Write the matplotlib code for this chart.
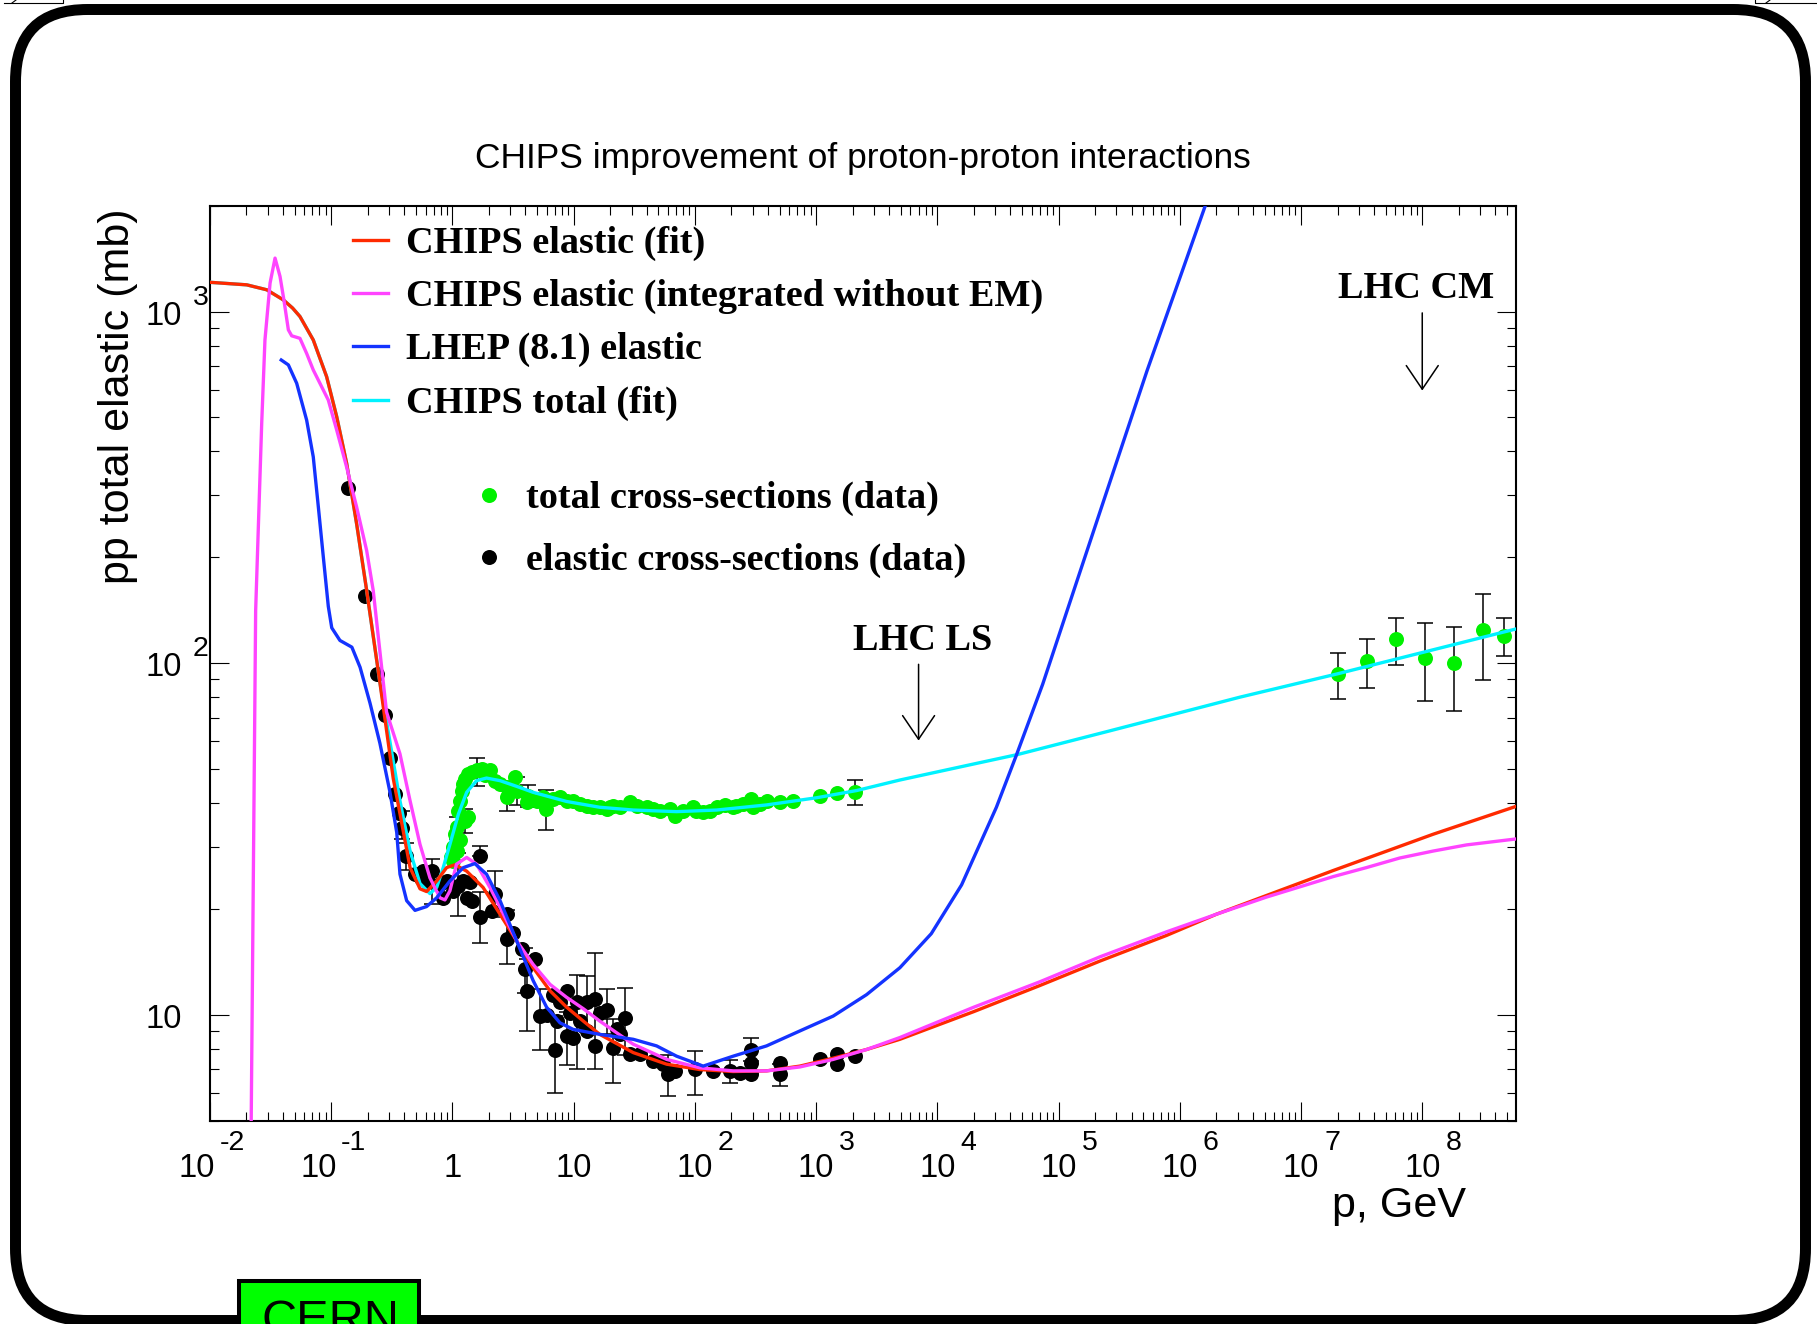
import numpy as np
import matplotlib
matplotlib.use("Agg")
import matplotlib.pyplot as plt
import matplotlib.transforms as mtrans
from matplotlib.patches import FancyBboxPatch, Rectangle
from matplotlib.lines import Line2D
from matplotlib.ticker import LogLocator, NullFormatter

# ------------------------------------------------------------------ data
# CHIPS elastic (fit)
red_p = [0.01, 0.0201, 0.0294, 0.0403, 0.0480, 0.0552, 0.0711, 0.0916, 0.111, 0.134, 0.162,
         0.196, 0.252, 0.325, 0.369, 0.447, 0.540, 0.612, 0.741, 0.895, 1.05,
         1.31, 1.79, 2.47, 3.39, 4.63, 6.37, 8.75, 12.0, 16.4, 31.0,
         58.5, 110, 207, 390, 735, 1384, 2606, 4909, 19950, 69980,
         2.188e5, 7.762e5, 2.0e6, 1.84e7, 1.23e8, 5.9e8]
red_s = [1211, 1191, 1153, 1079, 1023, 968, 830, 653, 502, 370, 249,
         161, 88.1, 46.9, 37.3, 26.2, 22.8, 22.4, 24.0, 26.2, 26.7,
         25.6, 23.0, 19.3, 16.2, 13.6, 11.7, 10.5, 9.59, 8.79, 7.80,
         7.23, 6.98, 6.89, 6.92, 7.14, 7.52, 7.96, 8.51, 10.2, 12.1,
         14.2, 16.8, 19.3, 25.7, 32.6, 39.1]

# CHIPS elastic (integrated without EM)
mag_p = [0.0210, 0.0238, 0.0251, 0.0267, 0.0284, 0.0313, 0.0344, 0.0378, 0.0407, 0.0443,
         0.0472, 0.0552, 0.0627, 0.0711, 0.0807, 0.0946, 0.111, 0.134, 0.162, 0.196,
         0.222, 0.286, 0.369, 0.447, 0.540, 0.652, 0.789, 0.867, 0.953, 1.08,
         1.31, 1.58, 2.04, 2.47, 3.39, 4.63, 6.37, 8.75, 12.0, 16.4,
         31.0, 58.5, 110, 207, 390, 735, 1384, 2606, 4909, 19950,
         69980, 2.188e5, 7.762e5, 2.0e6, 5.19e6, 1.84e7, 3.46e7, 6.52e7, 1.23e8,
         2.32e8, 5.9e8]
mag_s = [1.0, 141, 249, 481, 830, 1205, 1419, 1259, 1079, 887,
         853, 839, 760, 682, 625, 560, 460, 361, 278, 209,
         161, 72.6, 55.2, 40.6, 30.5, 24.5, 21.5, 21.2, 22.5, 26.8,
         28.0, 26.8, 23.0, 20.2, 16.2, 13.9, 12.2, 11.2, 10.4, 9.59,
         8.24, 7.46, 7.06, 6.92, 6.92, 7.10, 7.46, 7.96, 8.61, 10.5,
         12.4, 14.6, 17.2, 19.3, 21.6, 24.7, 26.2, 27.9, 29.2,
         30.4, 31.6]

# LHEP (8.1) elastic
blue_p = [0.0387, 0.0443, 0.0519, 0.0627, 0.0711, 0.0783, 0.0861, 0.0946, 0.101, 0.118,
          0.148, 0.173, 0.209, 0.252, 0.305, 0.347, 0.369, 0.419, 0.491, 0.612,
          0.741, 0.953, 1.23, 1.53, 1.91, 2.47, 3.39, 4.63, 5.98, 7.71,
          9.91, 16.4, 31.0, 48.3, 70.6, 117, 207, 390, 735, 1384,
          2606, 4909, 8913, 15850, 30690, 44670, 73960, 1.432e5, 2.773e5, 5.37e5,
          1.04e6, 2.0e6]
blue_s = [728, 705, 625, 491, 386, 278, 200, 145, 126, 116,
          111, 97.3, 76.9, 59.2, 43.0, 33.0, 25.1, 21.1, 19.8, 20.3,
          21.5, 24.0, 26.2, 26.9, 25.1, 21.1, 16.2, 12.5, 10.5, 9.48,
          9.08, 8.79, 8.51, 8.15, 7.62, 7.14, 7.62, 8.15, 8.99, 9.91,
          11.4, 13.6, 17.0, 23.4, 38.9, 54.5, 87.1, 173, 343, 679,
          1294, 2455]

# CHIPS total (fit)
cyan_p = [0.01, 0.0201, 0.0294, 0.0403, 0.0480, 0.0552, 0.0711, 0.0916, 0.111, 0.134, 0.162,
          0.196, 0.252, 0.369, 0.447, 0.540, 0.652, 0.741, 0.839, 0.953, 1.12,
          1.31, 1.58, 1.91, 2.47, 3.39, 4.63, 8.75, 16.4, 31.0, 70.6,
          151, 390, 1009, 2158, 4909, 19720, 46450, 2.483e5, 3.13e6, 2.02e7,
          5.9e8]
cyan_s = [1211, 1191, 1153, 1079, 1023, 968, 830, 653, 502, 370, 249,
          161, 88.1, 40.6, 29.2, 23.6, 22.1, 23.0, 26.2, 30.5, 37.2,
          42.9, 46.3, 47.1, 46.3, 44.6, 42.9, 40.4, 38.9, 38.2, 37.8,
          38.2, 39.5, 41.4, 43.4, 46.5, 51.6, 55.0, 63.8, 80.0, 93.3,
          125]

# total cross-sections (data)
tot_p = [0.966, 1.02, 1.05, 1.08, 1.12, 1.15, 1.19, 1.23, 1.27, 1.35,
         1.44, 1.15, 1.27, 1.35, 1.08, 1.02, 1.58, 1.74, 1.85, 2.04,
         2.24, 2.46, 2.80, 3.27, 3.38, 4.09, 4.22, 5.61, 5.90, 7.71,
         9.93, 12.8, 16.5, 19.9, 24.0, 29.1, 39.9, 51.4, 62.2, 68.4,
         96.8, 117, 151, 177, 207, 250, 293, 303, 390, 502,
         647, 1074, 1473, 2088, 11.3, 14.5, 18.7, 21.2, 33.0, 45.3,
         80.2, 103, 133, 220, 344, 4.94, 6.79, 8.75, 2.80, 2.02e7,
         3.47e7, 6.04e7, 1.05e8, 1.82e8, 3.18e8, 4.73e8]
tot_s = [28.0, 29.9, 32.7, 34.1, 38.0, 40.6, 43.4, 45.3, 46.8, 48.4,
         49.0, 31.3, 35.6, 36.4, 29.3, 27.4, 49.5, 50.0, 47.9, 49.5,
         46.3, 45.3, 41.5, 47.3, 43.4, 40.2, 42.0, 41.5, 38.5, 41.5,
         40.6, 39.3, 38.9, 38.9, 38.9, 40.2, 38.9, 38.0, 38.5, 36.8,
         38.9, 37.7, 38.9, 39.6, 38.9, 39.7, 41.1, 38.9, 40.6, 40.2,
         40.6, 42.0, 42.7, 43.0, 39.7, 38.9, 38.5, 39.3, 39.3, 38.5,
         38.0, 38.0, 38.0, 39.3, 39.7, 40.6, 41.1, 40.6, 44.4, 92.9,
         101.2, 117.3, 103.7, 100.0, 124.0, 119.4]
tot_lo = [0, 0, 0, 2.5, 0, 0, 0, 0, 0, 0,
          0, 0, 2.8, 0, 0, 0, 4.7, 0, 0, 0,
          0, 0, 3.5, 0, 4.0, 0, 3.0, 0, 5.0, 0,
          0, 0, 0, 0, 0, 0, 0, 0, 0, 0,
          0, 0, 0, 0, 0, 0, 0, 0, 0, 0,
          0, 0, 0, 3.5, 0, 0, 0, 0, 0, 0,
          0, 0, 0, 0, 0, 0, 0, 0, 0, 13.9,
          16.3, 18.3, 25.9, 27.0, 34.2, 14.4]
tot_hi = [0, 0, 0, 2.5, 0, 0, 0, 0, 0, 0,
          0, 0, 2.8, 0, 0, 0, 4.3, 0, 0, 0,
          0, 0, 3.8, 0, 4.0, 0, 3.0, 0, 5.0, 0,
          0, 0, 0, 0, 0, 0, 0, 0, 0, 0,
          0, 0, 0, 0, 0, 0, 0, 0, 0, 0,
          0, 0, 0, 3.5, 0, 0, 0, 0, 0, 0,
          0, 0, 0, 0, 0, 0, 0, 0, 0, 13.9,
          15.6, 17.0, 26.3, 26.6, 33.6, 14.9]

# elastic cross-sections (data)
el_p = [0.138, 0.190, 0.237, 0.277, 0.305, 0.336, 0.360, 0.385, 0.415, 0.491,
        0.574, 0.673, 0.632, 0.789, 0.896, 1.02, 1.12, 1.23, 1.39, 1.69,
        1.44, 1.69, 2.24, 2.10, 2.80, 2.80, 3.18, 3.72, 3.96, 4.79,
        4.09, 5.27, 7.00, 5.98, 6.79, 7.71, 8.75, 8.75, 9.93, 9.31,
        10.6, 12.8, 15.0, 12.8, 15.0, 16.5, 18.7, 21.2, 24.0, 26.5,
        29.1, 35.2, 45.3, 54.8, 60.3, 68.4, 100, 142, 194, 235,
        293, 293, 293, 502, 502, 1074, 1473, 1473, 2088, 0.839,
        1.31, 7.23, 11.3, 22.6, 0.55]
el_s = [314, 155, 92.9, 71.0, 53.7, 42.4, 37.5, 34.0, 28.3, 25.1,
        25.7, 25.7, 24.0, 23.5, 24.0, 22.5, 23.3, 24.0, 23.8, 28.3,
        21.1, 18.9, 22.0, 19.7, 19.3, 16.4, 17.1, 15.4, 13.5, 14.4,
        11.7, 9.91, 7.96, 10.0, 11.4, 10.9, 11.7, 8.69, 8.59, 10.1,
        10.9, 10.9, 11.1, 8.98, 8.15, 10.1, 10.3, 8.05, 8.79, 9.80,
        7.71, 7.71, 7.38, 7.22, 6.76, 6.91, 6.99, 6.91, 6.91, 6.84,
        7.96, 7.30, 6.76, 7.30, 6.76, 7.46, 7.71, 7.22, 7.62, 21.5,
        21.5, 9.59, 9.59, 9.08, 24.5]
el_lo = [0, 0, 0, 0, 0, 0, 0, 2.4, 2.5, 0,
         0, 5.1, 0, 0, 0, 0, 4.2, 0, 0, 0,
         0, 2.9, 3.1, 0, 0, 2.5, 0, 0, 2.0, 0,
         2.7, 1.95, 1.96, 0, 0, 0, 0, 1.5, 0, 0,
         3.9, 2.0, 4.1, 0, 0, 0, 1.5, 1.65, 0, 2.1,
         0, 0, 0, 0, 0.9, 0, 1.1, 0, 0.5, 0,
         0.6, 0, 0, 0, 0.5, 0, 0, 0, 0, 0,
         0, 0, 0, 0, 0]
el_hi = [0, 0, 0, 0, 0, 0, 0, 4.0, 2.5, 0,
         0, 2.0, 0, 0, 0, 0, 5.6, 0, 0, 1.9,
         0, 3.4, 3.7, 0, 0, 3.5, 0, 0, 2.0, 0,
         2.7, 1.95, 1.96, 0, 0, 0, 0, 1.5, 0, 0,
         2.1, 2.0, 3.9, 0, 0, 0, 1.5, 1.65, 0, 2.1,
         0, 0, 0, 0, 0.9, 0, 0.9, 0, 0.5, 0,
         0.6, 0, 0, 0, 0.5, 0, 0, 0, 0, 0,
         0, 0, 0, 0, 0]

xtick_vals = [1e-2, 1e-1, 1, 10, 1e2, 1e3, 1e4, 1e5, 1e6, 1e7, 1e8]
xtick_base = ["10", "10", "1", "10", "10", "10", "10", "10", "10", "10", "10"]
xtick_exp = ["-2", "-1", "", "", "2", "3", "4", "5", "6", "7", "8"]
ytick_vals = [10, 100, 1000]
ytick_base = ["10", "10", "10"]
ytick_exp = ["", "2", "3"]

legend_lines = ["CHIPS elastic (fit)", "CHIPS elastic (integrated without EM)",
                "LHEP (8.1) elastic", "CHIPS total (fit)"]
legend_points = ["total cross-sections (data)", "elastic cross-sections (data)"]

# ------------------------------------------------------------------ style
C_RED = "#ff2a00"
C_MAG = "#ff44ff"
C_BLUE = "#1433ff"
C_CYAN = "#00f2ff"
C_GREEN = "#00f000"
SANS = "Liberation Sans"
SERIF = "Liberation Serif"

W, H = 1817, 1324
fig = plt.figure(figsize=(W / 100, H / 100), dpi=100)
fig.patch.set_facecolor("white")

# overlay axes in pixel units (y downward)
ov = fig.add_axes([0, 0, 1, 1])
ov.set_xlim(0, W)
ov.set_ylim(H, 0)
ov.set_axis_off()
ov.set_zorder(10)

ax = fig.add_axes([210 / W, 1 - 1120.5 / H, 1305.7 / W, 914.8 / H])
ax.set_xscale("log")
ax.set_yscale("log")
ax.set_xlim(0.01, 5.9e8)
ax.set_ylim(5, 2000)
for sp in ax.spines.values():
    sp.set_linewidth(1.5)
for axis in (ax.xaxis, ax.yaxis):
    axis.set_major_locator(LogLocator(base=10, numticks=40))
    axis.set_minor_locator(LogLocator(base=10, subs=np.arange(2, 10), numticks=40))
    axis.set_minor_formatter(NullFormatter())
ax.tick_params(which="both", direction="in", top=True, right=True,
               labelbottom=False, labelleft=False, color="black")
ax.tick_params(which="major", length=13.7, width=0.8)
ax.tick_params(which="minor", length=6.8, width=0.8)

# ---- data points with error bars
tp, ts, tlo, thi = map(np.asarray, (tot_p, tot_s, tot_lo, tot_hi))
m = (tlo > 0) | (thi > 0)
ax.errorbar(tp[m], ts[m], yerr=[tlo[m], thi[m]], fmt="none", ecolor="black",
            elinewidth=1.1, capsize=5.6, capthick=1.1, zorder=2)
ep, es, elo, ehi = map(np.asarray, (el_p, el_s, el_lo, el_hi))
m = (elo > 0) | (ehi > 0)
ax.errorbar(ep[m], es[m], yerr=[elo[m], ehi[m]], fmt="none", ecolor="black",
            elinewidth=1.1, capsize=5.6, capthick=1.1, zorder=2)
ax.plot(tot_p, tot_s, "o", color=C_GREEN, ms=10.8, mec="none", zorder=3)
ax.plot(el_p, el_s, "o", color="black", ms=10.8, mec="none", zorder=3)

# ---- curves
LW = 2.4
ax.plot(cyan_p, cyan_s, color=C_CYAN, lw=LW, zorder=4, solid_joinstyle="round")
ax.plot(red_p, red_s, color=C_RED, lw=LW, zorder=5, solid_joinstyle="round")
ax.plot(mag_p, mag_s, color=C_MAG, lw=LW, zorder=6, solid_joinstyle="round")
ax.plot(blue_p, blue_s, color=C_BLUE, lw=LW, zorder=7, solid_joinstyle="round")

# ---- annotations (LHC)
ax.annotate("", xy=(1e8, 596), xytext=(1e8, 991),
            arrowprops=dict(arrowstyle="->,head_length=17,head_width=11.5",
                            mutation_scale=1, lw=1.1, color="black",
                            shrinkA=0, shrinkB=0), zorder=8)
ax.annotate("", xy=(7000, 60.2), xytext=(7000, 99.2),
            arrowprops=dict(arrowstyle="->,head_length=17,head_width=11.5",
                            mutation_scale=1, lw=1.1, color="black",
                            shrinkA=0, shrinkB=0), zorder=8)
ax.text(8.83e7, 1094, "LHC CM", family=SERIF, weight="bold", fontsize=27.5,
        ha="center", va="baseline", zorder=8)
ax.text(7516, 108.7, "LHC LS", family=SERIF, weight="bold", fontsize=27.5,
        ha="center", va="baseline", zorder=8)

# ---- tick labels (ROOT style: base + raised exponent)
def px(dx, dy):
    return mtrans.ScaledTranslation(dx / 100.0, dy / 100.0, fig.dpi_scale_trans)

tx = mtrans.blended_transform_factory(ax.transData, ov.transData)
for v, b, e in zip(xtick_vals, xtick_base, xtick_exp):
    shift = -13 if e.startswith("-") else 0
    ov.text(v, 1177, b, transform=tx + px(shift, 0), family=SANS, fontsize=23.5,
            ha="center", va="baseline", clip_on=False)
    if e:
        ov.text(v, 1150, e, transform=tx + px(shift + 23, 0), family=SANS,
                fontsize=20.5, ha="left", va="baseline", clip_on=False)

ty = mtrans.blended_transform_factory(ov.transData, ax.transData)
for v, b, e in zip(ytick_vals, ytick_base, ytick_exp):
    ov.text(182, v, b, transform=ty + px(0, -13), family=SANS, fontsize=23.5,
            ha="right", va="baseline", clip_on=False)
    if e:
        ov.text(193, v, e, transform=ty + px(0, 7), family=SANS, fontsize=20.5,
                ha="left", va="baseline", clip_on=False)

# ---- titles
ov.text(863, 168, "CHIPS improvement of proton-proton interactions", family=SANS,
        fontsize=25.5, ha="center", va="baseline")
ov.text(1466, 1217, "p, GeV", family=SANS, fontsize=31, ha="right", va="baseline")
ov.text(118, 209, "pp total elastic (mb)", family=SANS, fontsize=31, rotation=90,
        ha="center", va="top")

# ---- legend (drawn manually, ROOT TLegend layout)
line_cols = [C_RED, C_MAG, C_BLUE, C_CYAN]
line_rows = [240, 293, 346, 400]
for lab, col, yy in zip(legend_lines, line_cols, line_rows):
    ov.add_line(Line2D([353, 388], [yy, yy], color=col, lw=LW))
    ov.text(406, yy + 13, lab, family=SERIF, weight="bold", fontsize=27.5,
            ha="left", va="baseline")
pt_cols = [C_GREEN, "black"]
pt_rows = [495, 557]
for lab, col, yy in zip(legend_points, pt_cols, pt_rows):
    ov.plot([489], [yy], "o", color=col, ms=10.8, mec="none")
    ov.text(526, yy + 13, lab, family=SERIF, weight="bold", fontsize=27.5,
            ha="left", va="baseline")

# ---- page frame and decorations
frame = FancyBboxPatch((15.5, 9.5), 1790, 1311,
                       boxstyle="round,pad=0,rounding_size=72",
                       lw=7.9, ec="black", fc="none", clip_on=False)
ov.add_patch(frame)
ov.add_patch(Rectangle((239, 1281), 180, 60, fc="#00ff00", ec="black", lw=2.9,
                       clip_on=False, zorder=5))
ov.text(261, 1334, "CERN", family=SANS, fontsize=35, ha="left", va="baseline",
        zorder=6, clip_on=False)
# cut-off shapes at the top corners
ov.add_line(Line2D([4, 63, 63], [3, 3, 0], color="black", lw=0.8, clip_on=False))
ov.add_line(Line2D([12, 16], [3, 0], color="black", lw=0.8, clip_on=False))
ov.add_line(Line2D([1755, 1755, 1817], [0, 3, 3], color="black", lw=0.8, clip_on=False))
ov.add_line(Line2D([1766, 1770], [3, 0], color="black", lw=0.8, clip_on=False))

fig.savefig("out.png", dpi=100, facecolor="white")
